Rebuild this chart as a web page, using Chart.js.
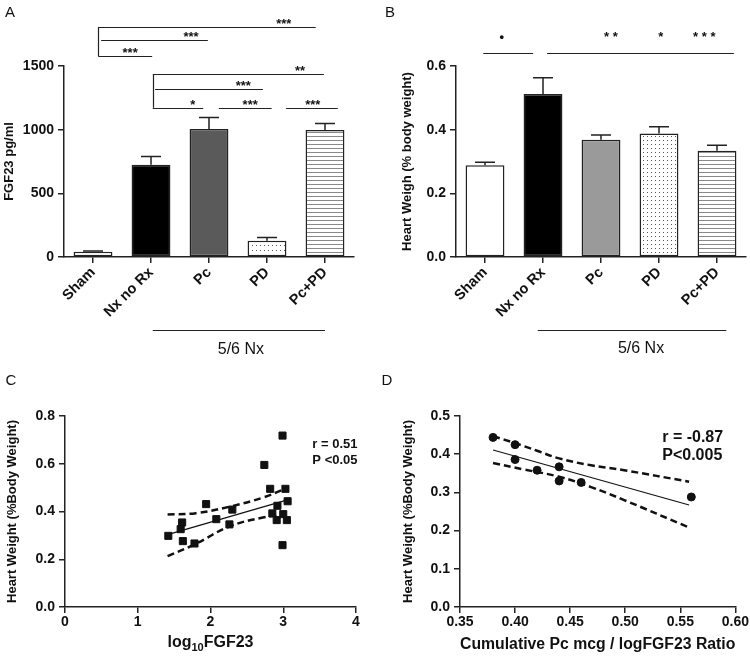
<!DOCTYPE html>
<html>
<head>
<meta charset="utf-8">
<script src="https://cdn.jsdelivr.net/npm/chart.js@4.4.1/dist/chart.umd.min.js"></script>
<style>
    body { margin: 0; background: #fff; }
    #wrap { position: relative; width: 750px; height: 658px; }
    #wrap canvas { position: absolute; }
</style>
</head>
<body>
<div id="wrap">
    <canvas id="chartA" width="375" height="365" style="left:0;top:0"></canvas>
    <canvas id="chartB" width="375" height="365" style="left:375px;top:0"></canvas>
    <canvas id="chartC" width="375" height="293" style="left:0;top:365px"></canvas>
    <canvas id="chartD" width="375" height="293" style="left:375px;top:365px"></canvas>
</div>
<script>
// ---- data ----
const groups = ['Sham', 'Nx no Rx', 'Pc', 'PD', 'Pc+PD'];
const fgf23Mean = [42, 725, 1005, 127, 998];
const fgf23Sem = [5, 65, 90, 27, 50];
const heartMean = [0.288, 0.512, 0.368, 0.388, 0.334];
const heartSem = [0.010, 0.051, 0.015, 0.021, 0.017];

// panel C: log10 FGF23 vs heart weight
const logFgf23 = [1.42, 1.59, 1.61, 1.62, 1.78, 1.94, 2.08, 2.26, 2.30, 2.74, 2.82, 2.85, 2.92, 2.91, 2.99, 3.03, 3.00, 2.99, 3.06, 3.05];
const heartWtC = [0.298, 0.326, 0.354, 0.276, 0.266, 0.431, 0.368, 0.346, 0.408, 0.595, 0.495, 0.392, 0.424, 0.364, 0.718, 0.495, 0.389, 0.259, 0.443, 0.364];
const fitC = [[1.41, 0.303], [3.07, 0.450]];
const upperC = [[1.41, 0.387], [1.80, 0.393], [2.26, 0.420], [2.72, 0.458], [3.00, 0.492]];
const lowerC = [[1.41, 0.213], [1.78, 0.262], [2.26, 0.337], [2.72, 0.375], [3.00, 0.385]];

// panel D: Pc / logFGF23 ratio vs heart weight
const pcRatio = [0.38, 0.40, 0.40, 0.42, 0.44, 0.44, 0.46, 0.56];
const heartWtD = [0.444, 0.425, 0.386, 0.358, 0.367, 0.330, 0.326, 0.288];
const fitD = [[0.38, 0.411], [0.558, 0.267]];
const upperD = [[0.38, 0.447], [0.40, 0.429], [0.42, 0.409], [0.44, 0.389], [0.469, 0.371], [0.499, 0.358], [0.558, 0.328]];
const lowerD = [[0.38, 0.377], [0.408, 0.360], [0.44, 0.341], [0.469, 0.314], [0.499, 0.280], [0.558, 0.208]];

// significance marks: [fromCat, toCat, yValue]
const sigLinesA = [[0.09, 3.84, 1805], [0.14, 1.98, 1703], [0.09, 1.02, 1578], [1.03, 3.98, 1437], [1.07, 2.93, 1320], [1.03, 1.90, 1172], [2.17, 3.08, 1172], [3.33, 4.22, 1172]];
const sigVertA = [[0.09, 1805, 1578], [1.03, 1437, 1172]];
const sigTextA = [['***', 3.29, 1805], ['***', 1.69, 1703], ['***', 0.64, 1578], ['**', 3.57, 1437], ['***', 2.59, 1320], ['*', 1.72, 1172], ['***', 2.71, 1172], ['***', 3.79, 1172]];
const sigLinesB = [[-0.03, 0.83, 0.64], [1.07, 4.29, 0.64]];
const sigTextB = [['\u2022', 0.29, 0.68], ['* *', 2.17, 0.68], ['*', 3.03, 0.68], ['* * *', 3.78, 0.68]];

const INK = '#222';
Chart.defaults.font.family = "'Liberation Sans', Arial, sans-serif";
Chart.defaults.font.weight = 'bold';
Chart.defaults.font.size = 14;
Chart.defaults.color = '#111';

// ---- fills ----
function makeDots(w, h) {
    const c = document.createElement('canvas');
    c.width = w; c.height = h;
    const g = c.getContext('2d');
    g.fillStyle = '#fff'; g.fillRect(0, 0, w, h);
    g.fillStyle = '#555'; g.fillRect(0, 0, 1, 1);
    return g.createPattern(c, 'repeat');
}
function makeStripes(h) {
    const c = document.createElement('canvas');
    c.width = 4; c.height = h;
    const g = c.getContext('2d');
    g.fillStyle = '#fff'; g.fillRect(0, 0, 4, h);
    g.fillStyle = '#888'; g.fillRect(0, 0, 4, 1);
    return g.createPattern(c, 'repeat');
}
const fillsA = ['#ffffff', '#000000', '#5a5a5a', makeDots(4, 5), makeStripes(4)];
const fillsB = ['#ffffff', '#000000', '#9a9a9a', makeDots(4, 4), makeStripes(4)];

// ---- helpers ----
function catX(chart, f) {
    const x = chart.scales.x;
    const p0 = x.getPixelForValue(0), p1 = x.getPixelForValue(1);
    return p0 + f * (p1 - p0);
}

function letter(ctx, t, x, y) {
    ctx.save();
    ctx.font = "15px 'Liberation Sans', Arial, sans-serif";
    ctx.fillStyle = '#111';
    ctx.textAlign = 'center';
    ctx.textBaseline = 'middle';
    ctx.fillText(t, x, y);
    ctx.restore();
}

// error bars above each bar
const errorBars = {
    id: 'errorBars',
    afterDatasetsDraw(chart, args, opts) {
        const ctx = chart.ctx;
        const y = chart.scales.y;
        const values = chart.data.datasets[0].data;
        ctx.save();
        ctx.strokeStyle = INK;
        ctx.lineWidth = 1.5;
        chart.getDatasetMeta(0).data.forEach((bar, i) => {
            const top = y.getPixelForValue(values[i] + opts.errors[i]);
            ctx.beginPath();
            ctx.moveTo(bar.x, bar.y);
            ctx.lineTo(bar.x, top);
            ctx.moveTo(bar.x - 10, top);
            ctx.lineTo(bar.x + 10, top);
            ctx.stroke();
        });
        ctx.restore();
    }
};

// significance lines, stars, "5/6 Nx" group bar, panel letter
function barAnnotations(id, cfg) {
    return {
        id: id,
        afterDraw(chart) {
            const ctx = chart.ctx;
            const y = chart.scales.y;
            ctx.save();
            ctx.strokeStyle = INK;
            ctx.lineWidth = 1.2;
            ctx.beginPath();
            cfg.lines.forEach(([a, b, v]) => {
                const py = Math.round(y.getPixelForValue(v)) + 0.5;
                ctx.moveTo(catX(chart, a), py);
                ctx.lineTo(catX(chart, b), py);
            });
            cfg.verts.forEach(([a, v1, v2]) => {
                const px = Math.round(catX(chart, a)) + 0.5;
                ctx.moveTo(px, y.getPixelForValue(v1));
                ctx.lineTo(px, y.getPixelForValue(v2));
            });
            ctx.stroke();

            ctx.fillStyle = '#111';
            ctx.textAlign = 'center';
            ctx.textBaseline = 'alphabetic';
            ctx.font = cfg.starFont;
            cfg.texts.forEach(([t, a, v]) => {
                ctx.fillText(t, catX(chart, a), y.getPixelForValue(v) + cfg.starShift);
            });

            // 5/6 Nx bracket under the axis
            const g = cfg.group;
            const gy = Math.round(y.getPixelForValue(g.y)) + 0.5;
            ctx.lineWidth = 1.2;
            ctx.beginPath();
            ctx.moveTo(catX(chart, g.from), gy);
            ctx.lineTo(catX(chart, g.to), gy);
            ctx.stroke();
            ctx.font = "normal 16px 'Liberation Sans', Arial, sans-serif";
            ctx.fillText('5/6 Nx', catX(chart, g.textAt), y.getPixelForValue(g.textY));
            ctx.restore();

            letter(ctx, cfg.letter, cfg.letterX, 13);
        }
    };
}

function axisStyle(extra) {
    return Object.assign({
        grid: { drawOnChartArea: false, drawTicks: true, tickLength: 6, color: INK, lineWidth: 1.5 },
        border: { display: true, color: INK, width: 1.5 },
    }, extra);
}

function barChart(canvasId, values, errors, fills, yCfg, yTitle, padRight, yWidth, titlePad, annot) {
    return new Chart(document.getElementById(canvasId), {
        type: 'bar',
        data: {
            labels: groups,
            datasets: [{
                data: values,
                backgroundColor: fills,
                borderColor: INK,
                borderWidth: 1.5,
                borderSkipped: false,
                barPercentage: 0.67,
                categoryPercentage: 1
            }]
        },
        options: {
            responsive: false,
            animation: false,
            layout: { padding: { top: 66, right: padRight, left: 0, bottom: 35 } },
            plugins: {
                legend: { display: false },
                tooltip: { enabled: false },
                errorBars: { errors: errors }
            },
            scales: {
                x: axisStyle({
                    grid: { offset: false, drawOnChartArea: false, drawTicks: true, tickLength: 6, color: INK, lineWidth: 1.5 },
                    ticks: { minRotation: 45, maxRotation: 45, autoSkip: false, padding: 1, font: { size: 14.5 } },
                    afterFit: s => { s.height = 73; }
                }),
                y: axisStyle({
                    min: 0,
                    max: yCfg.max,
                    ticks: { stepSize: yCfg.step, padding: 4, callback: v => v.toFixed(yCfg.dec) },
                    title: { display: true, text: yTitle, padding: { top: titlePad }, font: { size: 13, weight: 'bold' } },
                    afterFit: s => { s.width = yWidth; }
                })
            }
        },
        plugins: [errorBars, annot]
    });
}

barChart('chartA', fgf23Mean, fgf23Sem, fillsA, { max: 1500, step: 500, dec: 0 }, 'FGF23 pg/ml', 21, 64, 2,
    barAnnotations('annotA', {
        lines: sigLinesA, verts: sigVertA, texts: sigTextA,
        starFont: "bold 13px 'Liberation Sans', Arial, sans-serif", starShift: 1,
        group: { from: 1.03, to: 4.0, y: -570, textAt: 2.55, textY: -758 },
        letter: 'A', letterX: 10
    }));

barChart('chartB', heartMean, heartSem, fillsB, { max: 0.6, step: 0.2, dec: 1 }, 'Heart Weigh (% body weight)', 4, 81, 25,
    barAnnotations('annotB', {
        lines: sigLinesB, verts: [], texts: sigTextB,
        starFont: "bold 13px 'Liberation Sans', Arial, sans-serif", starShift: 0,
        group: { from: 0.91, to: 4.16, y: -0.228, textAt: 2.69, textY: -0.303 },
        letter: 'B', letterX: 15
    }));

// ---- scatter panels ----
function pts(xs, ys) { return xs.map((x, i) => ({ x: x, y: ys[i] })); }
function pairs(arr) { return arr.map(p => ({ x: p[0], y: p[1] })); }

function scatterExtras(id, cfg) {
    return {
        id: id,
        afterDraw(chart) {
            const ctx = chart.ctx;
            const xs = chart.scales.x, ys = chart.scales.y;
            ctx.save();
            ctx.fillStyle = '#111';
            ctx.textAlign = 'left';
            ctx.textBaseline = 'alphabetic';
            ctx.font = cfg.statFont;
            cfg.stats.forEach(([t, vx, vy]) => ctx.fillText(t, xs.getPixelForValue(vx), ys.getPixelForValue(vy)));
            ctx.restore();
            if (cfg.drawTitle) cfg.drawTitle(chart);
            letter(ctx, cfg.letter, cfg.letterX, 16);
        }
    };
}

function scatterChart(canvasId, points, fit, upper, lower, xCfg, yCfg, pointStyle, pointRadius, padRight, yWidth, titlePad, xTitle, extras) {
    const band = data => ({
        type: 'line', data: pairs(data), borderColor: '#111', borderWidth: 2.5,
        borderDash: [7, 4], pointRadius: 0, tension: 0.4, fill: false
    });
    return new Chart(document.getElementById(canvasId), {
        type: 'scatter',
        data: {
            datasets: [
                { data: points, backgroundColor: '#111', borderColor: '#111', pointStyle: pointStyle, pointRadius: pointRadius, order: 0 },
                { type: 'line', data: pairs(fit), borderColor: '#111', borderWidth: 1.2, pointRadius: 0, fill: false },
                band(upper),
                band(lower)
            ]
        },
        options: {
            responsive: false,
            animation: false,
            layout: { padding: { top: 51, right: padRight, left: 0, bottom: 0 } },
            plugins: { legend: { display: false }, tooltip: { enabled: false } },
            scales: {
                x: axisStyle({
                    type: 'linear', min: xCfg.min, max: xCfg.max,
                    ticks: { stepSize: xCfg.step, padding: 1, callback: v => v.toFixed(xCfg.dec) },
                    title: { display: !!xTitle, text: xTitle || '', padding: { top: 3 }, font: { size: 16, weight: 'bold' } },
                    afterFit: s => { s.height = 51; }
                }),
                y: axisStyle({
                    min: 0, max: yCfg.max,
                    ticks: { stepSize: yCfg.step, padding: 4, callback: v => v.toFixed(1) },
                    title: { display: true, text: 'Heart Weight (%Body Weight)', padding: { top: titlePad }, font: { size: 13, weight: 'bold' } },
                    afterFit: s => { s.width = yWidth; }
                })
            }
        },
        plugins: [extras]
    });
}

scatterChart('chartC', pts(logFgf23, heartWtC), fitC, upperC, lowerC,
    { min: 0, max: 4, step: 1, dec: 0 }, { max: 0.8, step: 0.2 }, 'rect', 5, 19, 65, 5, null,
    scatterExtras('extrasC', {
        statFont: "bold 13px 'Liberation Sans', Arial, sans-serif",
        stats: [['r = 0.51', 3.40, 0.665], ['P <0.05', 3.40, 0.598]],
        letter: 'C', letterX: 11,
        drawTitle(chart) {
            // log10FGF23 with subscript
            const ctx = chart.ctx;
            const xs = chart.scales.x;
            const cx = (xs.left + xs.right) / 2;
            const base = 282;
            ctx.save();
            ctx.fillStyle = '#111';
            ctx.textBaseline = 'alphabetic';
            ctx.textAlign = 'left';
            const big = "bold 16px 'Liberation Sans', Arial, sans-serif";
            const small = "bold 11px 'Liberation Sans', Arial, sans-serif";
            ctx.font = big; const w1 = ctx.measureText('log').width; const w3 = ctx.measureText('FGF23').width;
            ctx.font = small; const w2 = ctx.measureText('10').width;
            let x = cx - (w1 + w2 + w3) / 2;
            ctx.font = big; ctx.fillText('log', x, base); x += w1;
            ctx.font = small; ctx.fillText('10', x, base + 4); x += w2;
            ctx.font = big; ctx.fillText('FGF23', x, base);
            ctx.restore();
        }
    }));

scatterChart('chartD', pts(pcRatio, heartWtD), fitD, upperD, lowerD,
    { min: 0.35, max: 0.60, step: 0.05, dec: 2 }, { max: 0.5, step: 0.1 }, 'circle', 4, 14, 85, 26, 'Cumulative Pc mcg / logFGF23 Ratio',
    scatterExtras('extrasD', {
        statFont: "bold 16px 'Liberation Sans', Arial, sans-serif",
        stats: [['r = -0.87', 0.5336, 0.433], ['P<0.005', 0.5336, 0.386]],
        letter: 'D', letterX: 12
    }));
</script>
</body>
</html>
